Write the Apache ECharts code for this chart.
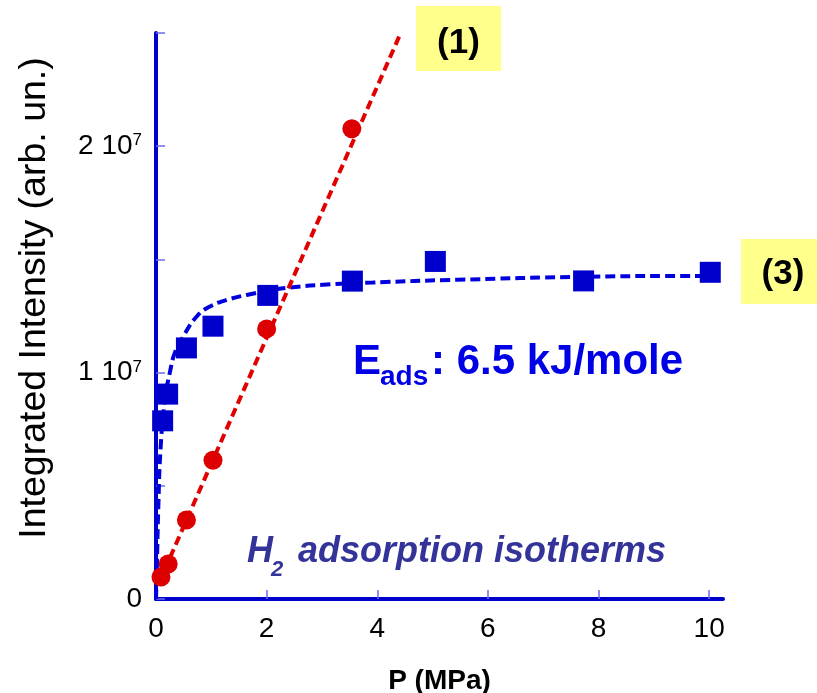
<!DOCTYPE html>
<html><head><meta charset="utf-8">
<script src="https://cdn.jsdelivr.net/npm/echarts@6/dist/echarts.min.js"></script>
<style>html,body{margin:0;padding:0;background:#fff}#c{width:817px;height:693px}</style>
</head><body><div id="c"></div>
<script>
// ---- data ----
const xTickValues = [0, 2, 4, 6, 8, 10];
const yTickValues = [0, 5e6, 1e7, 1.5e7, 2e7, 2.5e7];
const yLabelValues = [0, 1e7, 2e7];
const yLabelText = ['0', '1 10', '2 10'];
const yLabelExp = ['', '7', '7'];

// sample (3): blue squares
const squareP = [0.12, 0.21, 0.55, 1.03, 2.02, 3.55, 5.05, 7.73, 10.02];
const squareI = [7.87e6, 9.05e6, 1.109e7, 1.205e7, 1.341e7, 1.404e7, 1.491e7, 1.405e7, 1.443e7];
// sample (1): red circles
const circleP = [0.09, 0.22, 0.55, 1.03, 2.0, 3.54];
const circleI = [9.7e5, 1.55e6, 3.49e6, 6.13e6, 1.193e7, 2.077e7];
// fitted curve for (3)
const curveP = [0, 0.013, 0.042, 0.085, 0.163, 0.25, 0.34, 0.49, 0.736, 0.976, 1.28, 1.64, 2.12, 2.42, 3.02, 3.92, 5.44, 7.72, 9.84, 10.02];
const curveI = [0, 1.15e6, 4.08e6, 6.73e6, 8.84e6, 1.0e7, 1.087e7, 1.158e7, 1.248e7, 1.292e7, 1.321e7, 1.343e7, 1.366e7, 1.376e7, 1.388e7, 1.398e7, 1.41e7, 1.423e7, 1.427e7, 1.427e7];
// linear fit for (1)
const lineP = [0.05, 4.41];
const lineI = [7.0e5, 2.492e7];

const zip = (a, b) => a.map((v, i) => [v, b[i]]);
const FONT = '"Liberation Sans", Arial, Helvetica, sans-serif';
const AXIS_BLUE = '#0000cc';

const chart = echarts.init(document.getElementById('c'), null, {renderer: 'canvas'});
chart.setOption({
  animation: false,
  backgroundColor: '#fff',
  grid: {left: 156, top: 33, right: 94, bottom: 94, containLabel: false, outerBoundsMode: 'none'},
  xAxis: {
    type: 'value', min: 0, max: 10.25, interval: 2,
    name: 'P (MPa)', nameLocation: 'middle', nameGap: 68,
    nameTextStyle: {fontFamily: FONT, fontSize: 28, fontWeight: 'bold', color: '#000'},
    axisLine: {lineStyle: {color: AXIS_BLUE, width: 4}},
    axisTick: {inside: true, length: 9, customValues: xTickValues, lineStyle: {color: '#6a6af0', width: 1.5}},
    axisLabel: {customValues: xTickValues, fontFamily: FONT, fontSize: 28, color: '#000', margin: 16},
    splitLine: {show: false}
  },
  yAxis: {
    type: 'value', min: 0, max: 2.5e7, interval: 5e6,
    axisLine: {show: true, lineStyle: {color: AXIS_BLUE, width: 4}},
    axisTick: {show: true, inside: true, length: 9, customValues: yTickValues, lineStyle: {color: '#6a6af0', width: 1.5}},
    axisLabel: {
      customValues: yLabelValues, margin: 14,
      formatter: function (v) {
        const i = yLabelValues.indexOf(v);
        if (i < 0) return '';
        return yLabelExp[i] ? '{n|' + yLabelText[i] + '}{s|' + yLabelExp[i] + '}' : '{n|' + yLabelText[i] + '}';
      },
      rich: {
        n: {fontFamily: FONT, fontSize: 28, lineHeight: 28, color: '#000', verticalAlign: 'top'},
        s: {fontFamily: FONT, fontSize: 17, lineHeight: 17, color: '#000', verticalAlign: 'top'}
      }
    },
    splitLine: {show: false}
  },
  series: [
    {type: 'line', data: zip(curveP, curveI), showSymbol: false, symbol: 'none', smooth: true,
     lineStyle: {color: '#0000dd', width: 4, type: [10, 5]}, z: 2},
    {type: 'line', data: zip(lineP, lineI), showSymbol: false, symbol: 'none',
     lineStyle: {color: '#e00000', width: 4, type: [9, 5]}, z: 2},
    {type: 'scatter', data: zip(circleP, circleI), symbol: 'circle', symbolSize: 19,
     itemStyle: {color: '#dd0000', opacity: 1}, z: 3},
    {type: 'scatter', data: zip(squareP, squareI), symbol: 'rect', symbolSize: 21,
     itemStyle: {color: '#0000cc', opacity: 1}, z: 4}
  ],
  graphic: [
    {type: 'text', x: 35, y: 298, rotation: Math.PI / 2,
     style: {text: 'Integrated Intensity (arb. un.)', fontFamily: FONT, fontSize: 37.5, fill: '#000', align: 'center', verticalAlign: 'middle'}},
    {type: 'rect', shape: {x: 416, y: 6, width: 85, height: 65}, style: {fill: '#ffff8c'}, z: 1},
    {type: 'text', x: 458.5, y: 43, style: {text: '(1)', fontFamily: FONT, fontSize: 35, fontWeight: 'bold', fill: '#000', align: 'center', verticalAlign: 'middle'}, z: 2},
    {type: 'rect', shape: {x: 741, y: 239, width: 76, height: 65}, style: {fill: '#ffff8c'}, z: 1},
    {type: 'text', x: 783, y: 274, style: {text: '(3)', fontFamily: FONT, fontSize: 35, fontWeight: 'bold', fill: '#000', align: 'center', verticalAlign: 'middle'}, z: 2},
    {type: 'text', x: 353, y: 362, style: {text: 'E', fontFamily: FONT, fontSize: 42, fontWeight: 'bold', fill: '#0000e6', align: 'left', verticalAlign: 'middle'}, z: 5},
    {type: 'text', x: 380, y: 377.5, style: {text: 'ads', fontFamily: FONT, fontSize: 28, fontWeight: 'bold', fill: '#0000e6', align: 'left', verticalAlign: 'middle'}, z: 5},
    {type: 'text', x: 431, y: 362.3, style: {text: ': 6.5 kJ/mole', fontFamily: FONT, fontSize: 42, fontWeight: 'bold', fill: '#0000e6', align: 'left', verticalAlign: 'middle'}, z: 5},
    {type: 'text', x: 247, y: 552.4, style: {text: 'H', fontFamily: FONT, fontSize: 36, fontWeight: 'bold', fontStyle: 'italic', fill: '#333399', align: 'left', verticalAlign: 'middle'}, z: 5},
    {type: 'text', x: 271, y: 570, style: {text: '2', fontFamily: FONT, fontSize: 22, fontWeight: 'bold', fontStyle: 'italic', fill: '#333399', align: 'left', verticalAlign: 'middle'}, z: 5},
    {type: 'text', x: 298, y: 552.4, style: {text: 'adsorption isotherms', fontFamily: FONT, fontSize: 36, fontWeight: 'bold', fontStyle: 'italic', fill: '#333399', align: 'left', verticalAlign: 'middle'}, z: 5}
  ]
});
</script></body></html>
